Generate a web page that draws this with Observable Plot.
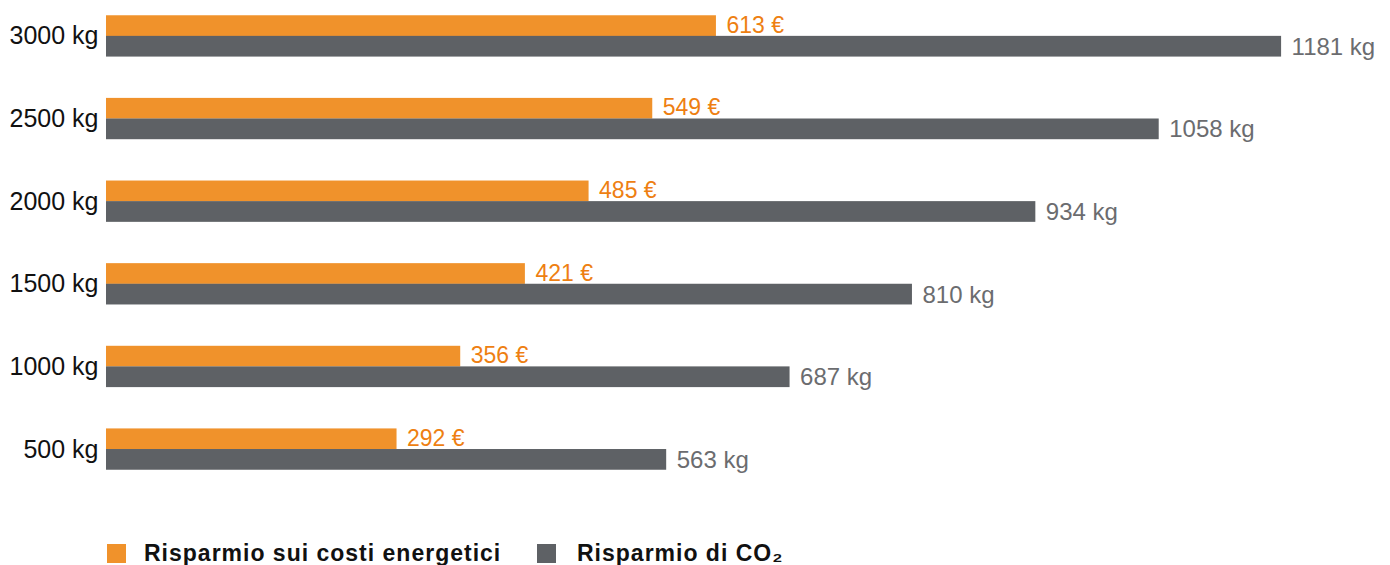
<!DOCTYPE html>
<html>
<head>
<meta charset="utf-8">
<script src="https://cdn.jsdelivr.net/npm/d3@7"></script>
<script src="https://cdn.jsdelivr.net/npm/@observablehq/plot@0.6"></script>
<style>
  body { margin: 0; background: #fff; font-family: Arial, "Liberation Sans", Helvetica, sans-serif; }
  #chart svg { display: block; }
  .legend { position: relative; height: 24px; margin-top: 41px; font-weight: bold; font-size: 23px; letter-spacing: 1px; color: #111; font-family: Arial, "Liberation Sans", Helvetica, sans-serif; }
  .legend .sw { position: absolute; top: 3px; width: 19px; height: 19px; }
  .legend .lt { position: absolute; top: 0; line-height: 24px; white-space: nowrap; }
</style>
</head>
<body>
<div id="chart"></div>
<div class="legend" id="legend"></div>
<script>
const categories = ["3000 kg", "2500 kg", "2000 kg", "1500 kg", "1000 kg", "500 kg"];
const costs = [613, 549, 485, 421, 356, 292];
const co2 = [1181, 1058, 934, 810, 687, 563];
const seriesNames = ["Risparmio sui costi energetici", "Risparmio di CO\u2082"];
const colors = ["#F0922B", "#5E6165"];
const textColors = ["#EE7F12", "#6B6C6F"];

const costData = categories.map((c, i) => ({cat: c, v: costs[i], label: costs[i] + " \u20AC"}));
const co2Data = categories.map((c, i) => ({cat: c, v: co2[i], label: co2[i] + " kg"}));

const FONT = "Arial, 'Liberation Sans', Helvetica, sans-serif";

const chart = Plot.plot({
  width: 1390,
  height: 500,
  marginLeft: 106,
  marginRight: 90,
  marginTop: 7,
  marginBottom: 22,
  style: {fontFamily: FONT, fontSize: "24px", color: "#111"},
  x: {domain: [0, 1200], axis: null},
  y: {domain: categories, paddingInner: 0.5, paddingOuter: 0.1, round: false, label: null, axis: null},
  marks: [
    Plot.barX(costData, {x: "v", y: "cat", fill: colors[0], insetBottom: 20.6}),
    Plot.barX(co2Data, {x: "v", y: "cat", fill: colors[1], insetTop: 20.6}),
    Plot.text(costData, {x: "v", y: "cat", text: "label", dx: 10, dy: -11, textAnchor: "start", fill: textColors[0], fontSize: 23}),
    Plot.text(co2Data, {x: "v", y: "cat", text: "label", dx: 10, dy: 10.5, textAnchor: "start", fill: textColors[1], fontSize: 24}),
    Plot.axisY({tickSize: 0, tickPadding: 8, fontSize: 25, fill: "#111", label: null})
  ]
});
document.getElementById("chart").appendChild(chart);

const legend = document.getElementById("legend");
const swatchX = [107, 537];
const textX = [144, 577];
seriesNames.forEach((name, i) => {
  const sw = document.createElement("span");
  sw.className = "sw";
  sw.style.background = colors[i];
  sw.style.left = swatchX[i] + "px";
  const t = document.createElement("span");
  t.className = "lt";
  t.textContent = name;
  t.style.left = textX[i] + "px";
  legend.appendChild(sw);
  legend.appendChild(t);
});
</script>
</body>
</html>
